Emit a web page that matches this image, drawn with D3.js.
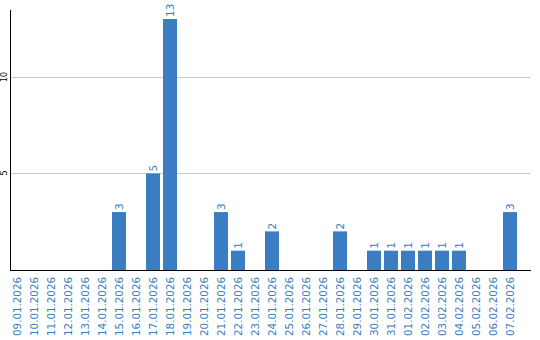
<!DOCTYPE html>
<html>
<head>
<meta charset="utf-8">
<script src="https://cdn.jsdelivr.net/npm/d3@7"></script>
<style>
  body { margin: 0; background: #fff; }
  svg { display: block; }
  text { font-family: "DejaVu Sans", sans-serif; }
</style>
</head>
<body>
<svg id="chart" width="540" height="340"></svg>
<script>
const dates = [
    '09.01.2026', '10.01.2026', '11.01.2026', '12.01.2026', '13.01.2026',
    '14.01.2026', '15.01.2026', '16.01.2026', '17.01.2026', '18.01.2026',
    '19.01.2026', '20.01.2026', '21.01.2026', '22.01.2026', '23.01.2026',
    '24.01.2026', '25.01.2026', '26.01.2026', '27.01.2026', '28.01.2026',
    '29.01.2026', '30.01.2026', '31.01.2026', '01.02.2026', '02.02.2026',
    '03.02.2026', '04.02.2026', '05.02.2026', '06.02.2026', '07.02.2026'
];
const counts = [0, 0, 0, 0, 0, 0, 3, 0, 5, 13, 0, 0, 3, 1, 0, 2, 0, 0, 0, 2, 0, 1, 1, 1, 1, 1, 1, 0, 0, 3];
const yTicks = [5, 10];

const blue = '#3a7dc3';
const svg = d3.select('#chart');

const x = d3.scaleBand()
    .domain(dates)
    .range([10, 517])
    .paddingInner(3 / 17)
    .paddingOuter(0);

const y = d3.scaleLinear()
    .domain([0, 13])
    .range([270, 19]);

// grid lines
svg.append('g').selectAll('line')
    .data(yTicks)
    .enter()
    .append('line')
    .attr('x1', 10)
    .attr('x2', 530)
    .attr('y1', d => Math.round(y(d)) + 0.5)
    .attr('y2', d => Math.round(y(d)) + 0.5)
    .attr('stroke', '#c8c8c8');

// y tick labels, rotated
svg.append('g').selectAll('text')
    .data(yTicks)
    .enter()
    .append('text')
    .attr('transform', d => `translate(7,${Math.round(y(d))}) rotate(-90)`)
    .attr('text-anchor', 'middle')
    .attr('font-size', 8)
    .attr('fill', '#000')
    .text(d => d);

// bars, only days with a count
const bars = dates.map((d, i) => ({ date: d, value: counts[i] })).filter(d => d.value > 0);
svg.append('g').selectAll('rect')
    .data(bars)
    .enter()
    .append('rect')
    .attr('x', d => x(d.date))
    .attr('y', d => y(d.value))
    .attr('width', x.bandwidth())
    .attr('height', d => y(0) - y(d.value))
    .attr('fill', blue);

// value labels
svg.append('g').selectAll('text')
    .data(bars)
    .enter()
    .append('text')
    .attr('transform', d => `translate(${x(d.date) + x.bandwidth() / 2 + 4},${y(d.value) - 2}) rotate(-90)`)
    .attr('text-anchor', 'start')
    .attr('font-size', 10.5)
    .attr('fill', blue)
    .text(d => d.value);

// axis lines
svg.append('line')
    .attr('x1', 10.5).attr('x2', 10.5)
    .attr('y1', 10).attr('y2', 270)
    .attr('stroke', '#000');
svg.append('line')
    .attr('x1', 10).attr('x2', 531)
    .attr('y1', 270.5).attr('y2', 270.5)
    .attr('stroke', '#000');

// date labels
svg.append('g').selectAll('text')
    .data(dates)
    .enter()
    .append('text')
    .attr('transform', d => `translate(${x(d) + x.bandwidth() / 2 + 4},277) rotate(-90)`)
    .attr('text-anchor', 'end')
    .attr('font-size', 10.3)
    .attr('fill', blue)
    .text(d => d);
</script>
</body>
</html>
